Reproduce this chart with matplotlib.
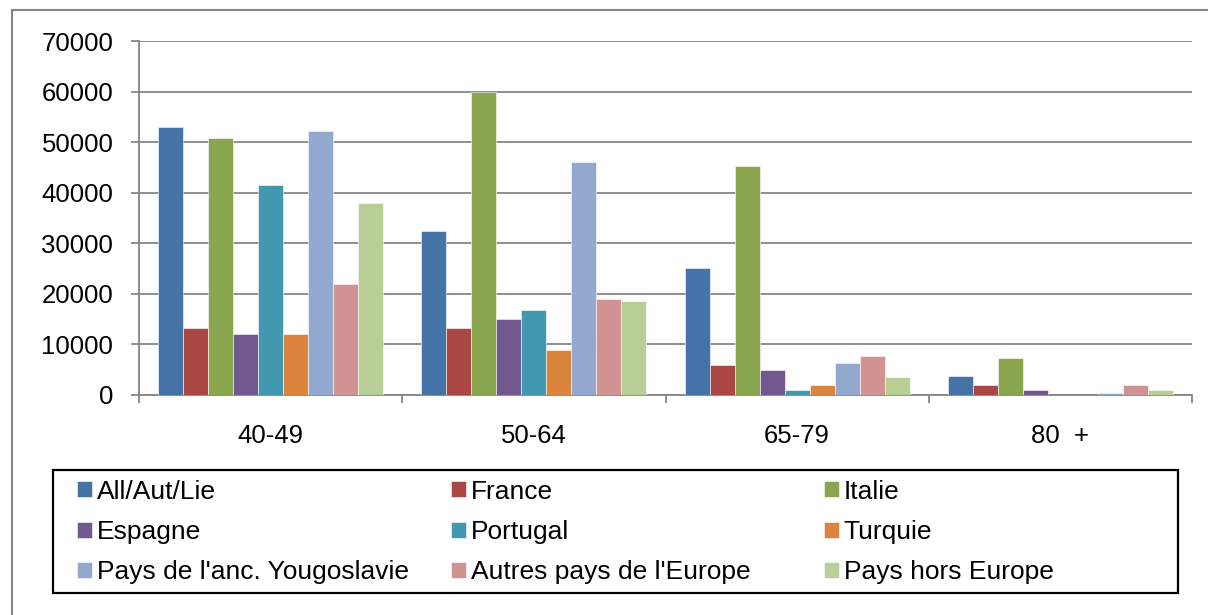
import numpy as np
import matplotlib
matplotlib.use("Agg")
from matplotlib import pyplot as plt
from matplotlib.patches import Rectangle

plt.rcParams['font.family'] = ['Liberation Sans', 'DejaVu Sans']

groups = ['40-49', '50-64', '65-79', '80  +']
series = ['All/Aut/Lie', 'France', 'Italie', 'Espagne', 'Portugal', 'Turquie',
          "Pays de l'anc. Yougoslavie", "Autres pays de l'Europe", 'Pays hors Europe']

all_aut_lie = [53000, 32500, 25100, 3700]
france = [13300, 13300, 6000, 1900]
italie = [50800, 60000, 45300, 7400]
espagne = [12100, 15000, 5000, 900]
portugal = [41500, 16800, 900, 0]
turquie = [12000, 8800, 2000, 0]
yougoslavie = [52200, 46000, 6300, 400]
autres_europe = [22000, 19000, 7800, 2000]
hors_europe = [38000, 18500, 3500, 900]

values = [all_aut_lie, france, italie, espagne, portugal, turquie,
          yougoslavie, autres_europe, hors_europe]
colors = ['#4572A7', '#AA4643', '#89A54E', '#71588F', '#4198AF',
          '#DB843D', '#93A9CF', '#D19392', '#B9CD96']

W, H = 1208, 615
fig = plt.figure(figsize=(W / 100, H / 100), dpi=100)
ax = fig.add_axes([139 / W, 1 - 395 / H, (1192 - 139) / W, (395 - 41) / H])

x = np.arange(len(groups))
w = 0.855 / len(series)
bars = []
for i, (name, vals) in enumerate(zip(series, values)):
    b = ax.bar(x - 0.4275 + w * (i + 0.5), vals, w, color=colors[i], label=name,
               edgecolor='white', linewidth=0.4, zorder=3)
    bars.append(b)

ax.set_xlim(-0.5, len(groups) - 0.5)
ax.set_ylim(0, 70000)
ax.set_yticks(range(0, 70001, 10000))
ax.yaxis.grid(True, color='#868686', linewidth=1.3, zorder=0)
ax.set_axisbelow(True)

ax.set_xticks(np.arange(len(groups) + 1) - 0.5)
ax.set_xticklabels([])
ax.set_xticks(x, minor=True)
ax.set_xticklabels(groups, minor=True)
ax.tick_params(axis='x', which='major', length=5.5, color='#868686', width=1.3)
ax.tick_params(axis='x', which='minor', length=0, pad=21, labelsize=18.5)
ax.tick_params(axis='y', length=5.5, color='#868686', width=1.3, labelsize=18.5, pad=13)

for s in ['top', 'right']:
    ax.spines[s].set_visible(False)
for s in ['left', 'bottom']:
    ax.spines[s].set_color('#868686')
    ax.spines[s].set_linewidth(1.3)

# legend: three columns filled row by row, fixed column starts like Excel
col_x = [77, 451, 824]
for c in range(3):
    idx = [c, c + 3, c + 6]
    fig.legend([bars[k] for k in idx], [series[k] for k in idx],
               loc='center left', bbox_to_anchor=(col_x[c] / W, 1 - 532 / H),
               fontsize=19, frameon=False, handlelength=0.55, handleheight=0.55,
               handletextpad=0.2, borderaxespad=0, borderpad=0, labelspacing=0.62)

fig.patches.append(Rectangle((53 / W, 1 - 593 / H), (1178 - 53) / W, (593 - 470) / H,
                             transform=fig.transFigure, fill=False,
                             edgecolor='black', linewidth=1.6))
fig.patches.append(Rectangle((12 / W, -0.1), 1.2, 1 - 10 / H + 0.1,
                             transform=fig.transFigure, fill=False,
                             edgecolor='#868686', linewidth=1.5))

fig.savefig('out.png', dpi=100)
